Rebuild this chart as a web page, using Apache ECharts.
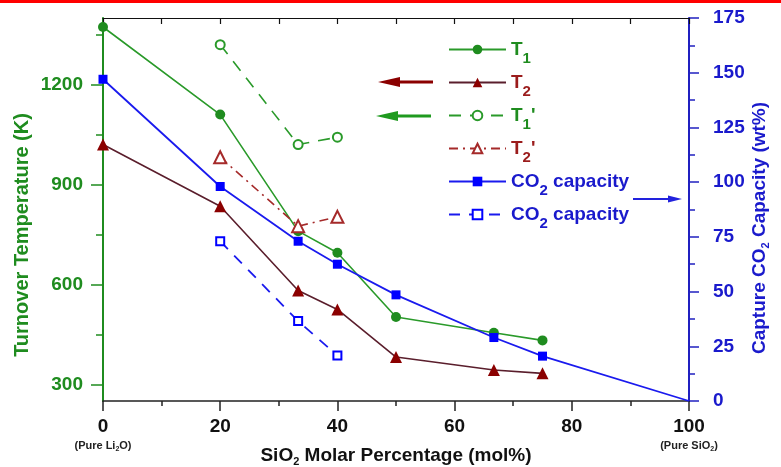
<!DOCTYPE html>
<html><head><meta charset="utf-8">
<script src="https://cdn.jsdelivr.net/npm/echarts@6/dist/echarts.min.js"></script>
<style>html,body{margin:0;padding:0;background:#fff}#c{width:781px;height:467px}</style>
</head><body><div id="c"></div>
<script>
// ---- data ----
const xT   = [0, 20, 33.3, 40, 50, 66.7, 75];          // SiO2 mol%
const t1   = [1373, 1110, 760, 695, 502, 455, 432];    // T1 (K)
const t2   = [1020, 835, 582, 525, 382, 343, 333];     // T2 (K)
const xP   = [20, 33.3, 40];
const t1p  = [1320, 1020, 1042];                        // T1' (K)
const t2p  = [982, 775, 803];                           // T2' (K)
const xC   = [0, 20, 33.3, 40, 50, 66.7, 75, 100];
const co2  = [147, 98, 73, 62.5, 48.5, 29, 20.5, 0];    // CO2 capacity (wt%)
const co2p = [73, 36.5, 20.8];                          // CO2 capacity' (wt%)
const tempLabels = [300, 600, 900, 1200];
const tempMinor  = [450, 750, 1050, 1350];
const capLabels  = [0, 25, 50, 75, 100, 125, 150, 175];
const xLabels    = [0, 20, 40, 60, 80, 100];
const seriesNames = ['T1', 'T2', "T1'", "T2'", 'CO2 capacity', "CO2 capacity'"];

// ---- styling ----
const G = '#1f8c1f', GL = '#2a9a2a';
const R = '#8b0000', RL = '#5a1e2c', RT = '#9b1c1c', RD = '#a52a2a';
const B = '#0000ff', BL = '#1a1aee', BT = '#1a1acc';
const FF = 'Arial, "Liberation Sans", sans-serif';
const zip = (xs, ys) => xs.map((x, i) => [x, ys[i]]);

const chart = echarts.init(document.getElementById('c'), null, {renderer: 'canvas'});

const sub = (c) => ({color: c, fontSize: 15, fontWeight: 'bold', fontFamily: FF, padding: [18, 0, 0, 0]});
const main = (c) => ({color: c, fontSize: 19, fontWeight: 'bold', fontFamily: FF});
const legendText = {
  'T1': '{tg|T}{sg|1}',
  'T2': '{tr|T}{sr|2}',
  "T1'": "{tg|T}{sg|1}{tg|'}",
  "T2'": "{tr|T}{sr|2}{tr|'}",
  'CO2 capacity': '{tb|CO}{sb|2}{tb| capacity}',
  "CO2 capacity'": '{tb|CO}{sb|2}{tb| capacity}'
};

const arrow = (x1, x2, y, dir, color, w, hl, hh) => {
  const tip = dir < 0 ? x1 : x2;
  const base = tip - dir * hl;
  return [
    {type: 'line', shape: {x1: dir < 0 ? base : x1, y1: y, x2: dir < 0 ? x2 : base, y2: y},
     style: {stroke: color, lineWidth: w}},
    {type: 'polygon', shape: {points: [[tip, y], [base, y - hh], [base, y + hh]]},
     style: {fill: color}}
  ];
};

const gridRect = {left: 103, right: 92, top: 18, bottom: 66, containLabel: false, outerBoundsMode: 'none'};

const option = {
  backgroundColor: '#ffffff',
  animation: false,
  grid: [Object.assign({}, gridRect), Object.assign({}, gridRect)],
  legend: {
    orient: 'vertical', left: 443, top: 35, itemWidth: 57, itemHeight: 12, itemGap: 7,
    data: seriesNames,
    formatter: (n) => legendText[n],
    textStyle: {
      rich: {tg: main(G), sg: sub(G), tr: main(RT), sr: sub(RT), tb: main(BT), sb: sub(BT)}
    }
  },
  xAxis: [
    {
      gridIndex: 0, type: 'value', position: 'bottom', min: 0, max: 100, interval: 20,
      axisLine: {show: true, onZero: false, lineStyle: {color: '#222', width: 1.5}},
      axisTick: {show: true, length: 10, inside: false, lineStyle: {color: '#222', width: 1.5}},
      minorTick: {show: true, splitNumber: 2, length: 5, lineStyle: {color: '#222', width: 1.5}},
      splitLine: {show: false}, minorSplitLine: {show: false},
      axisLabel: {
        margin: 15,
        customValues: xLabels,
        formatter: (v) => {
          if (v === 0) return '{v|0}\n{p|(Pure Li}{ps|2}{p|O)}';
          if (v === 100) return '{v|100}\n{p|(Pure SiO}{ps|2}{p|)}';
          return '{v|' + v + '}';
        },
        rich: {
          v: {fontSize: 19, fontWeight: 'bold', color: '#111', fontFamily: FF, lineHeight: 22},
          p: {fontSize: 11, fontWeight: 'bold', color: '#222', fontFamily: FF, lineHeight: 16},
          ps: {fontSize: 7, fontWeight: 'bold', color: '#222', fontFamily: FF, padding: [6, 0, 0, 0]}
        }
      }
    },
    {
      gridIndex: 0, type: 'value', position: 'top', min: 0, max: 100, interval: 10,
      axisLine: {show: true, onZero: false, lineStyle: {color: '#111', width: 1}},
      axisTick: {show: true, inside: true, length: 6, lineStyle: {color: '#111', width: 1.2}},
      axisLabel: {show: false}, splitLine: {show: false}
    },
    {
      gridIndex: 1, type: 'value', position: 'bottom', min: 0, max: 100, show: false,
      axisLine: {onZero: false}
    }
  ],
  yAxis: [
    {
      gridIndex: 0, type: 'value', position: 'left', min: 250, max: 1400,
      axisLine: {show: true, onZero: false, lineStyle: {color: G, width: 2}},
      axisTick: {show: true, length: 12, customValues: tempLabels, lineStyle: {color: G, width: 1.5}},
      axisLabel: {customValues: tempLabels, formatter: (v) => String(v), margin: 20,
                  color: G, fontSize: 19, fontWeight: 'bold', fontFamily: FF},
      splitLine: {show: false}
    },
    {
      gridIndex: 0, type: 'value', position: 'right', min: 0, max: 175, interval: 25,
      axisLine: {show: true, onZero: false, lineStyle: {color: '#2020c0', width: 2}},
      axisTick: {show: true, length: 10, lineStyle: {color: '#2020c0', width: 1.5}},
      minorTick: {show: true, splitNumber: 2, length: 6, lineStyle: {color: '#2020c0', width: 1.5}},
      axisLabel: {customValues: capLabels, formatter: (v) => String(v), margin: 24,
                  color: BT, fontSize: 19, fontWeight: 'bold', fontFamily: FF},
      splitLine: {show: false}, minorSplitLine: {show: false}
    },
    {
      gridIndex: 1, type: 'value', position: 'left', min: 250, max: 1400,
      axisLine: {show: false, onZero: false},
      axisTick: {show: true, length: 7, customValues: tempMinor, lineStyle: {color: G, width: 1.5}},
      axisLabel: {show: false, customValues: tempMinor},
      splitLine: {show: false}
    }
  ],
  series: [
    {name: 'T1', type: 'line', xAxisIndex: 0, yAxisIndex: 0, data: zip(xT, t1),
     symbol: 'circle', symbolSize: 10, itemStyle: {color: G},
     lineStyle: {color: GL, width: 1.6}},
    {name: 'T2', type: 'line', xAxisIndex: 0, yAxisIndex: 0, data: zip(xT, t2),
     symbol: 'triangle', symbolSize: 12, itemStyle: {color: R},
     lineStyle: {color: RL, width: 1.6}},
    {name: "T1'", type: 'line', xAxisIndex: 0, yAxisIndex: 0, data: zip(xP, t1p),
     symbol: 'emptyCircle', symbolSize: 9, itemStyle: {color: GL, borderWidth: 1.6},
     lineStyle: {color: GL, width: 1.6, type: [12, 9]}},
    {name: "T2'", type: 'line', xAxisIndex: 0, yAxisIndex: 0, data: zip(xP, t2p),
     symbol: 'emptyTriangle', symbolSize: 12, itemStyle: {color: RD, borderWidth: 1.6},
     lineStyle: {color: RD, width: 1.6, type: [9, 5, 2, 5]}},
    {name: 'CO2 capacity', type: 'line', xAxisIndex: 0, yAxisIndex: 1,
     data: zip(xC, co2).map((p, i, a) => i === a.length - 1 ? {value: p, symbolSize: 0} : p),
     symbol: 'rect', symbolSize: 9, itemStyle: {color: B},
     lineStyle: {color: BL, width: 1.8}},
    {name: "CO2 capacity'", type: 'line', xAxisIndex: 0, yAxisIndex: 1, data: zip(xP, co2p),
     symbol: 'emptyRect', symbolSize: 8, itemStyle: {color: B, borderWidth: 1.4},
     lineStyle: {color: BL, width: 1.8, type: [11, 9]}}
  ],
  graphic: [
    {type: 'rect', shape: {x: 0, y: 0, width: 781, height: 3}, style: {fill: '#ff0000'}},
    ...arrow(378, 433, 82, -1, R, 3, 22, 5),
    ...arrow(376, 431, 116, -1, '#1f9a1f', 3, 22, 5),
    ...arrow(633, 682, 199, 1, '#2222dd', 2, 14, 3.5),
    {type: 'text', x: 22, y: 235, rotation: Math.PI / 2,
     style: {text: 'Turnover Temperature (K)', fill: G, fontSize: 20, fontWeight: 'bold', fontFamily: FF,
             align: 'center', verticalAlign: 'middle'}},
    {type: 'text', x: 760, y: 228, rotation: Math.PI / 2,
     style: {text: '{a|Capture CO}{s|2}{a| Capacity (wt%)}', align: 'center', verticalAlign: 'middle',
             rich: {a: {fill: BT, fontSize: 19, fontWeight: 'bold', fontFamily: FF},
                    s: {fill: BT, fontSize: 11, fontWeight: 'bold', fontFamily: FF, padding: [12, 0, 0, 0]}}}},
    {type: 'text', x: 396, y: 456,
     style: {text: '{a|SiO}{s|2}{a| Molar Percentage (mol%)}', align: 'center', verticalAlign: 'middle',
             rich: {a: {fill: '#111', fontSize: 19, fontWeight: 'bold', fontFamily: FF},
                    s: {fill: '#111', fontSize: 11, fontWeight: 'bold', fontFamily: FF, padding: [12, 0, 0, 0]}}}}
  ]
};
chart.setOption(option);
</script>
</body></html>
